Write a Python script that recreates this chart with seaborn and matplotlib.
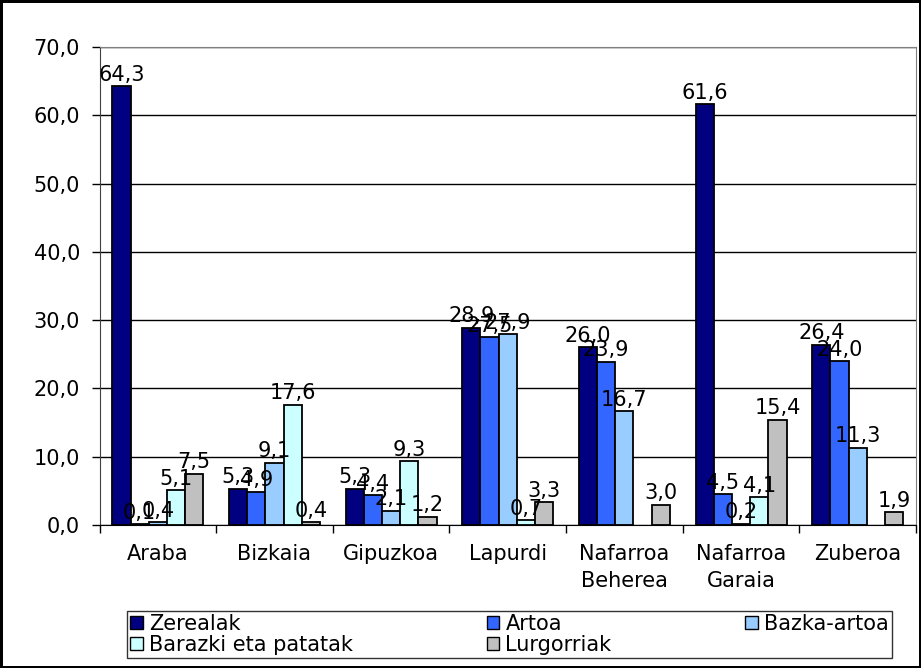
import matplotlib
matplotlib.use("Agg")
import matplotlib.pyplot as plt
import seaborn as sns
import pandas as pd
import numpy as np

regions = ['Araba', 'Bizkaia', 'Gipuzkoa', 'Lapurdi', 'Nafarroa\nBeherea',
           'Nafarroa\nGaraia', 'Zuberoa']
series = ['Zerealak', 'Artoa', 'Bazka-artoa', 'Barazki eta patatak', 'Lurgorriak']
zerealak = [64.3, 5.3, 5.3, 28.9, 26.0, 61.6, 26.4]
artoa = [0.1, 4.9, 4.4, 27.5, 23.9, 4.5, 24.0]
bazka = [0.4, 9.1, 2.1, 27.9, 16.7, 0.2, 11.3]
barazki = [5.1, 17.6, 9.3, 0.7, np.nan, 4.1, np.nan]
lurgorriak = [7.5, 0.4, 1.2, 3.3, 3.0, 15.4, 1.9]
colors = ['#000080', '#3366FF', '#99CCFF', '#CCFFFF', '#C0C0C0']

rows = []
for name, vals in zip(series, [zerealak, artoa, bazka, barazki, lurgorriak]):
    for reg, v in zip(regions, vals):
        rows.append({'region': reg, 'series': name, 'value': v})
df = pd.DataFrame(rows)

sns.set_style("white")
plt.rcParams['font.family'] = ['DejaVu Sans']
plt.rcParams['text.color'] = 'black'
plt.rcParams['xtick.color'] = 'black'
plt.rcParams['ytick.color'] = 'black'

fs = 15

fig = plt.figure(figsize=(9.21, 6.68), dpi=100, edgecolor='black', linewidth=2.5)
ax = fig.add_axes([99.5 / 921, 1 - 525 / 668, 816.5 / 921, 478 / 668])

sns.barplot(data=df, x='region', y='value', hue='series', order=regions,
            hue_order=series, palette=colors, width=0.78, saturation=1,
            edgecolor='black', linewidth=1.3, errorbar=None, legend=False, ax=ax)

# etiketak: hamartar koma
for cont in ax.containers:
    ax.bar_label(cont, labels=[('' if np.isnan(b.get_height()) else
                                f"{b.get_height():.1f}".replace('.', ','))
                               for b in cont], fontsize=fs, padding=1)

ax.set_ylim(0, 70)
ax.set_yticks(range(0, 71, 10))
ax.set_yticklabels([f"{v:.1f}".replace('.', ',') for v in range(0, 71, 10)], fontsize=fs)
ax.set_xlim(-0.5, 6.5)
ax.yaxis.grid(True, color='black', linewidth=1)
ax.set_axisbelow(True)
ax.set_xlabel('')
ax.set_ylabel('')
ax.tick_params(axis='x', length=0, pad=14, labelsize=fs)
plt.setp(ax.get_xticklabels(), linespacing=1.4)
ax.tick_params(axis='y', length=6, width=1, direction='out', left=True, pad=8)
ax.set_xticks(np.arange(-0.5, 7, 1), minor=True)
ax.tick_params(axis='x', which='minor', length=6, width=1, direction='out', bottom=True)
ax.spines['top'].set_color('#808080')
ax.spines['right'].set_color('#808080')
ax.spines['left'].set_color('#404040')
ax.spines['bottom'].set_color('black')

patches = [plt.Rectangle((0, 0), 1, 1, facecolor=c, edgecolor='black') for c in colors]
order = [0, 3, 1, 4, 2]
fig.legend([patches[i] for i in order], [series[i] for i in order], ncol=3,
           mode='expand', loc='lower left',
           bbox_to_anchor=(127 / 921, 1 - 658 / 668, 765 / 921, 51 / 668),
           fontsize=fs, frameon=True, fancybox=False, edgecolor='black',
           handlelength=0.6, handleheight=0.6, handletextpad=0.3,
           borderpad=0.15, labelspacing=0.05, borderaxespad=0)

fig.savefig('out.png', dpi=100, edgecolor=fig.get_edgecolor())
